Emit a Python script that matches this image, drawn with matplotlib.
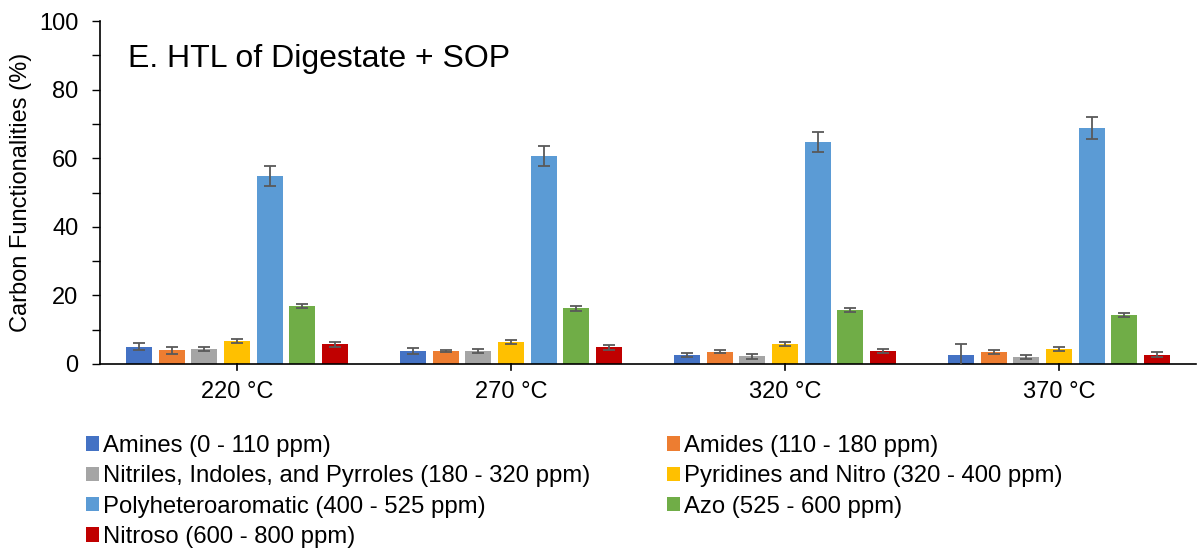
import matplotlib
matplotlib.use("Agg")
import matplotlib.pyplot as plt
from matplotlib.patches import Patch
import numpy as np

plt.rcParams['font.family'] = ['Liberation Sans', 'DejaVu Sans']

categories = ["220 °C", "270 °C", "320 °C", "370 °C"]
series_names = [
    "Amines (0 - 110 ppm)",
    "Amides (110 - 180 ppm)",
    "Nitriles, Indoles, and Pyrroles (180 - 320 ppm)",
    "Pyridines and Nitro (320 - 400 ppm)",
    "Polyheteroaromatic (400 - 525 ppm)",
    "Azo (525 - 600 ppm)",
    "Nitroso (600 - 800 ppm)",
]
colors = ["#4472C4", "#ED7D31", "#A5A5A5", "#FFC000", "#5B9BD5", "#70AD47", "#C00000"]

amines = [5.0, 3.8, 2.7, 2.5]
amides = [4.0, 3.8, 3.6, 3.5]
nitriles = [4.4, 3.7, 2.2, 2.0]
pyridines = [6.7, 6.3, 5.8, 4.3]
polyhetero = [54.8, 60.6, 64.7, 68.8]
azo = [16.8, 16.2, 15.7, 14.3]
nitroso = [5.8, 4.9, 3.8, 2.7]

amines_err = [1.0, 0.9, 0.6, 3.3]
amides_err = [1.0, 0.4, 0.5, 0.6]
nitriles_err = [0.6, 0.6, 0.6, 0.6]
pyridines_err = [0.6, 0.6, 0.6, 0.6]
polyhetero_err = [2.9, 2.9, 3.0, 3.2]
azo_err = [0.6, 0.7, 0.6, 0.6]
nitroso_err = [0.7, 0.7, 0.7, 0.7]

values = [amines, amides, nitriles, pyridines, polyhetero, azo, nitroso]
errors = [amines_err, amides_err, nitriles_err, pyridines_err, polyhetero_err, azo_err, nitroso_err]

FS = 17
LFS = 17.2

fig = plt.figure(figsize=(11.98, 5.5), dpi=100)
ax = fig.add_axes([100/1198, 1-364/550, 1-100/1198 - 2/1198, (364-21)/550])

x = np.arange(len(categories))
step = 0.119
width = 0.095
for i, (vals, errs, c) in enumerate(zip(values, errors, colors)):
    pos = x + (i - 3) * step
    ax.bar(pos, vals, width=width, color=c, zorder=2)
    ax.errorbar(pos, vals, yerr=errs, fmt='none', ecolor='#595959', elinewidth=1.3,
                capsize=4.5, capthick=1.3, zorder=3)

ax.set_xlim(-0.5, 3.5)
ax.set_ylim(0, 100)
ax.set_yticks(np.arange(0, 101, 20))
ax.set_yticks(np.arange(0, 101, 10), minor=True)
ax.set_xticks(x)
ax.set_xticklabels(categories)
ax.tick_params(axis='x', which='major', length=0, labelsize=FS, pad=12)
ax.tick_params(axis='x', which='minor', length=0)
ax.tick_params(axis='y', which='major', length=5.5, direction='out', labelsize=FS, width=1, pad=10)
ax.tick_params(axis='y', which='minor', length=5.5, direction='out', width=1)
ax.set_ylabel("Carbon Functionalities (%)", fontsize=FS, labelpad=5)

for s in ['top', 'right']:
    ax.spines[s].set_visible(False)
ax.spines['left'].set_linewidth(1.2)
ax.spines['bottom'].set_linewidth(1.2)

# short tick marks below the axis at category centers
for xi in x:
    ax.plot([xi, xi], [0, -1.7], color='black', lw=1.2, clip_on=False, zorder=4)

ax.text(0.0255, 0.89, "E. HTL of Digestate + SOP", transform=ax.transAxes,
        fontsize=23, va='center', ha='left')

handles = [Patch(facecolor=c, edgecolor='none') for c in colors]
left_idx = [0, 2, 4, 6]
right_idx = [1, 3, 5]
common = dict(frameon=False, fontsize=LFS, handlelength=0.55, handleheight=0.55,
              handletextpad=0.17, labelspacing=0.35, borderpad=0, borderaxespad=0)
leg1 = fig.legend([handles[i] for i in left_idx], [series_names[i] for i in left_idx],
                  loc='upper left', bbox_to_anchor=(86/1198, 1-435/550), **common)
leg2 = fig.legend([handles[i] for i in right_idx], [series_names[i] for i in right_idx],
                  loc='upper left', bbox_to_anchor=(667/1198, 1-435/550), **common)

fig.savefig("out.png", dpi=100)
